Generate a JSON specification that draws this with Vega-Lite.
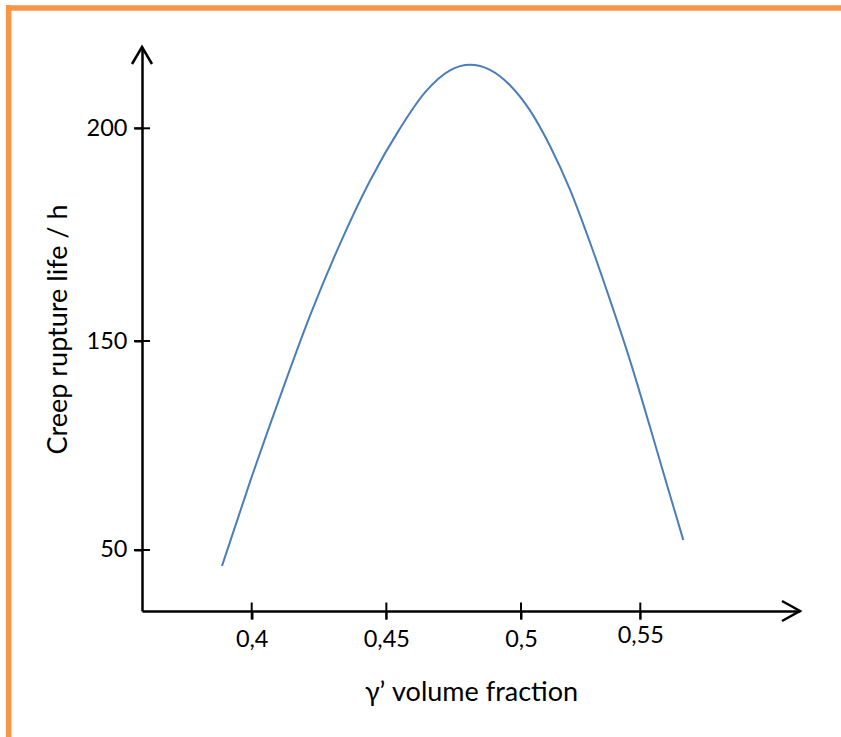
{
  "$schema": "https://vega.github.io/schema/vega-lite/v6.json",
  "width": 658,
  "height": 564,
  "autosize": {"type": "none"},
  "padding": {"left": 142, "top": 47, "right": 41, "bottom": 126},
  "background": "white",
  "config": {"view": {"stroke": null}, "font": "Lato"},
  "datasets": {
    "curve": [
      {"fraction": 0.38897, "life": 42.34},
      {"fraction": 0.39937, "life": 82.58},
      {"fraction": 0.41051, "life": 123.30},
      {"fraction": 0.42165, "life": 155.97},
      {"fraction": 0.43279, "life": 172.85},
      {"fraction": 0.44393, "life": 187.68},
      {"fraction": 0.45507, "life": 199.98},
      {"fraction": 0.46435, "life": 208.44},
      {"fraction": 0.47364, "life": 213.63},
      {"fraction": 0.48106, "life": 214.95},
      {"fraction": 0.48849, "life": 213.75},
      {"fraction": 0.49592, "life": 210.13},
      {"fraction": 0.50377, "life": 204.21},
      {"fraction": 0.51215, "life": 195.84},
      {"fraction": 0.52054, "life": 185.57},
      {"fraction": 0.52892, "life": 173.15},
      {"fraction": 0.53730, "life": 159.66},
      {"fraction": 0.54568, "life": 140.72},
      {"fraction": 0.55407, "life": 108.85},
      {"fraction": 0.56119, "life": 81.10},
      {"fraction": 0.56802, "life": 54.78}
    ],
    "xticks": [{"v": 0.4}, {"v": 0.45}, {"v": 0.5}, {"v": 0.55}],
    "yticks": [{"v": 50}, {"v": 150}, {"v": 200}]
  },
  "layer": [
    {
      "data": {"name": "curve"},
      "mark": {"type": "line", "color": "#4A7EBB", "strokeWidth": 2, "interpolate": "monotone"},
      "encoding": {
        "x": {
          "field": "fraction", "type": "quantitative",
          "scale": {"type": "linear", "domain": [0.35927, 0.4, 0.5, 0.61693], "range": [0, 109.7, 379, 658], "nice": false, "zero": false},
          "axis": {
            "title": "γ’ volume fraction",
            "values": [0.4, 0.45, 0.5, 0.55],
            "labelExpr": "replace(toString(datum.value), '.', ',')",
            "grid": false,
            "domainColor": "black", "domainWidth": 2.5,
            "ticks": true, "tickSize": 8, "tickWidth": 2, "tickColor": "black",
            "labelPadding": {"condition": {"test": "datum.value > 0.54", "value": 4}, "value": 8},
            "labelFont": "Lato", "labelFontSize": 23.5, "labelColor": "black",
            "labelFlush": false, "labelOverlap": false,
            "titleFont": "Lato", "titleFontSize": 27, "titleFontWeight": "normal", "titleColor": "black",
            "titlePadding": 29
          }
        },
        "y": {
          "field": "life", "type": "quantitative",
          "scale": {"type": "linear", "domain": [20.8, 150, 219.11], "range": [564, 294, 0], "nice": false, "zero": false},
          "axis": {
            "title": "Creep rupture life / h",
            "values": [50, 150, 200],
            "grid": false,
            "domainColor": "black", "domainWidth": 2.5,
            "ticks": true, "tickSize": 8, "tickWidth": 2, "tickColor": "black",
            "labelPadding": 7,
            "labelFont": "Lato", "labelFontSize": 23.5, "labelColor": "black",
            "labelFlush": false, "labelOverlap": false,
            "titleFont": "Lato", "titleFontSize": 27, "titleFontWeight": "normal", "titleColor": "black",
            "titlePadding": 14
          }
        }
      }
    },
    {
      "data": {"values": [{}]},
      "mark": {"type": "rule", "color": "#F79646", "strokeWidth": 5.5, "strokeCap": "butt"},
      "encoding": {
        "x": {"datum": 0.3088, "type": "quantitative", "scale": {"type": "linear", "domain": [0.35927, 0.4, 0.5, 0.61693], "range": [0, 109.7, 379, 658], "nice": false, "zero": false}},
        "x2": {"datum": 0.66},
        "y": {"datum": 228.3, "type": "quantitative", "scale": {"type": "linear", "domain": [20.8, 150, 219.11], "range": [564, 294, 0], "nice": false, "zero": false}}
      }
    },
    {
      "data": {"values": [{}]},
      "mark": {"type": "rule", "color": "#F79646", "strokeWidth": 5.5, "strokeCap": "butt"},
      "encoding": {
        "x": {"datum": 0.30977, "type": "quantitative", "scale": {"type": "linear", "domain": [0.35927, 0.4, 0.5, 0.61693], "range": [0, 109.7, 379, 658], "nice": false, "zero": false}},
        "y": {"datum": 229.0, "type": "quantitative", "scale": {"type": "linear", "domain": [20.8, 150, 219.11], "range": [564, 294, 0], "nice": false, "zero": false}},
        "y2": {"datum": -50}
      }
    },
    {
      "data": {"name": "xticks"},
      "mark": {"type": "tick", "orient": "vertical", "size": 17, "thickness": 2, "color": "black", "opacity": 1},
      "encoding": {
        "x": {"field": "v", "type": "quantitative", "scale": {"type": "linear", "domain": [0.35927, 0.4, 0.5, 0.61693], "range": [0, 109.7, 379, 658], "nice": false, "zero": false}},
        "y": {"datum": 20.8, "type": "quantitative", "scale": {"type": "linear", "domain": [20.8, 150, 219.11], "range": [564, 294, 0], "nice": false, "zero": false}}
      }
    },
    {
      "data": {"name": "yticks"},
      "mark": {"type": "tick", "orient": "horizontal", "size": 16, "thickness": 2, "color": "black", "opacity": 1},
      "encoding": {
        "x": {"datum": 0.35927, "type": "quantitative", "scale": {"type": "linear", "domain": [0.35927, 0.4, 0.5, 0.61693], "range": [0, 109.7, 379, 658], "nice": false, "zero": false}},
        "y": {"field": "v", "type": "quantitative", "scale": {"type": "linear", "domain": [20.8, 150, 219.11], "range": [564, 294, 0], "nice": false, "zero": false}}
      }
    },
    {
      "data": {"values": [{}]},
      "mark": {"type": "point", "shape": "M-1.8,-1L0,0L-1.8,1", "size": 400, "filled": false, "stroke": "black", "strokeWidth": 2.5, "opacity": 1},
      "encoding": {
        "x": {"datum": 0.61693, "type": "quantitative", "scale": {"type": "linear", "domain": [0.35927, 0.4, 0.5, 0.61693], "range": [0, 109.7, 379, 658], "nice": false, "zero": false}},
        "y": {"datum": 20.8, "type": "quantitative", "scale": {"type": "linear", "domain": [20.8, 150, 219.11], "range": [564, 294, 0], "nice": false, "zero": false}}
      }
    },
    {
      "data": {"values": [{}]},
      "mark": {"type": "point", "shape": "M-1,1.7L0,0L1,1.7", "size": 400, "filled": false, "stroke": "black", "strokeWidth": 2.5, "opacity": 1},
      "encoding": {
        "x": {"datum": 0.35927, "type": "quantitative", "scale": {"type": "linear", "domain": [0.35927, 0.4, 0.5, 0.61693], "range": [0, 109.7, 379, 658], "nice": false, "zero": false}},
        "y": {"datum": 219.11, "type": "quantitative", "scale": {"type": "linear", "domain": [20.8, 150, 219.11], "range": [564, 294, 0], "nice": false, "zero": false}}
      }
    }
  ]
}
